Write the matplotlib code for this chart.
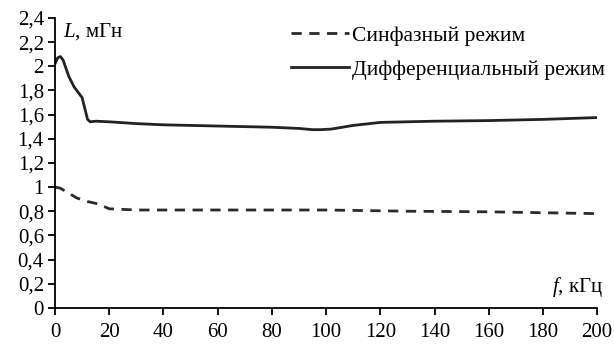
import matplotlib
matplotlib.use("Agg")
import matplotlib.pyplot as plt
from matplotlib.ticker import FuncFormatter, MultipleLocator
import numpy as np

plt.rcParams['font.family'] = ['Liberation Serif', 'DejaVu Serif']
plt.rcParams['mathtext.fontset'] = 'custom'
plt.rcParams['mathtext.it'] = 'Liberation Serif:italic'
plt.rcParams['mathtext.rm'] = 'Liberation Serif'

f_common = [0, 2, 5, 8, 12, 16, 20, 30, 50, 80, 100, 130, 160, 200]
L_common = [1.0, 0.99, 0.95, 0.91, 0.88, 0.86, 0.82, 0.81, 0.81, 0.81, 0.81, 0.80, 0.795, 0.78]

f_diff = [0, 1, 2, 3, 5, 7, 9, 10, 11, 12, 13, 15, 20, 30, 40, 60, 80, 90, 95, 98, 102, 110, 120, 140, 160, 180, 200]
L_diff = [2.02, 2.07, 2.08, 2.05, 1.92, 1.83, 1.77, 1.74, 1.65, 1.56, 1.54, 1.545, 1.54, 1.525, 1.515, 1.505, 1.495, 1.485, 1.475, 1.475, 1.48, 1.51, 1.535, 1.545, 1.55, 1.56, 1.575]

label_common = 'Синфазный режим'
label_diff = 'Дифференциальный режим'

fig = plt.figure(figsize=(6.14, 3.44), dpi=100)
ax = fig.add_axes([0.0896, 0.105, 0.883, 0.843])

ax.plot(f_common, L_common, color='#2a2a2a', lw=2.0, ls=(0, (3.7, 2.7)), label=label_common)
ax.plot(f_diff, L_diff, color='#222222', lw=2.0, label=label_diff)

ax.set_xlim(0, 200)
ax.set_ylim(0, 2.4)
ax.xaxis.set_major_locator(MultipleLocator(20))
ax.yaxis.set_major_locator(MultipleLocator(0.2))
fmt = FuncFormatter(lambda v, p: ('%g' % round(v, 2)).replace('.', ','))
ax.xaxis.set_major_formatter(fmt)
ax.yaxis.set_major_formatter(fmt)
for s in ['top', 'right']:
    ax.spines[s].set_visible(False)
for s in ['left', 'bottom']:
    ax.spines[s].set_linewidth(1.3)
ax.tick_params(labelsize=15, width=1.3, length=5, colors='black')
ax.tick_params(axis='x', pad=6)
ax.tick_params(axis='y', pad=3)

ax.text(0.014, 0.99, r'$L$, мГн', transform=ax.transAxes, fontsize=15, va='top', ha='left')
ax.text(1.01, 0.03, r'$f$, кГц', transform=ax.transAxes, fontsize=15, va='bottom', ha='right')

leg = ax.legend(loc='upper right', bbox_to_anchor=(1.05, 1.04), frameon=False, fontsize=15.5,
                handlelength=2.7, handletextpad=0.15, labelspacing=0.65)

fig.savefig('out.png', dpi=100)
